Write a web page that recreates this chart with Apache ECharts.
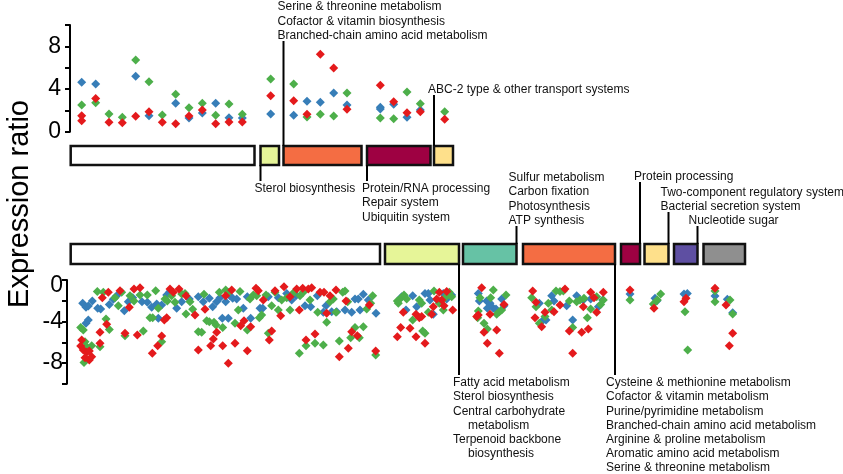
<!DOCTYPE html>
<html><head><meta charset="utf-8">
<script src="https://cdn.jsdelivr.net/npm/echarts@6/dist/echarts.min.js"></script>
<style>html,body{margin:0;padding:0;background:#fff}#c{width:843px;height:474px}</style>
</head><body><div id="c"></div>
<script>
// ---------- DATA ----------
// x = gene position along the functional-category strip, y = expression ratio
const upRed = [[21.7,1.5],[21.7,1.03],[35.7,3.1],[49,0.88],[62.3,0.85],[75.7,1.44],[89,1.87],[102.3,0.88],[115.7,0.75],[129,1.47],[142.3,2.03],[155.7,0.75],[169,0.91],[182.3,0.91],[210.7,3.37],[233.7,2.9],[247,1.63],[260.3,7.25],[273.7,5.97],[287,2.1],[320.3,4.35],[333.7,2.81],[347,1.78],[360.3,1.87],[384.7,1.16]];
const upBlue = [[21.7,4.63],[35.7,4.47],[75.7,5.19],[89,1.5],[115.7,2.66],[129,1.28],[142.3,1.75],[155.7,2.66],[169,1.31],[182.3,1.28],[210.7,1.66],[233.7,1.54],[247,2.85],[260.3,2.75],[273.7,3.63],[287,2.5],[320.3,2.29],[320.3,2.13],[333.7,2.57],[347,1.35],[360.3,2.03]];
const upGreen = [[21.7,2.5],[35.7,2.72],[49,1.66],[62.3,1.35],[75.7,6.72],[89,4.69],[102.3,1.56],[115.7,3.5],[129,2.25],[142.3,2.66],[155.7,1.54],[169,2.6],[182.3,1.63],[210.7,4.94],[233.7,4.47],[247,1.38],[260.3,1.63],[273.7,1.47],[287,3.63],[320.3,1.28],[333.7,1.22],[347,3.72],[360.3,2.63],[384.7,1.87]];

const downBlue = [[22.7,-2.25],[26,-2.63],[28.3,-2.51],[32.3,-2.02],[37.7,-2.73],[40.7,-2.8],[49.3,-2.35],[53.3,-1.86],[56.7,-1.51],[64.3,-2.96],[68.3,-2.09],[72.7,-1.7],[82,-2.09],[87.3,-2.15],[91.7,-2.63],[96.7,-2.31],[101.7,-2.41],[106.7,-1.45],[110,-1.12],[116.7,-2.73],[121.7,-2.09],[129.3,-1.83],[138.3,-1.61],[143.3,-2.09],[149.3,-1.77],[152.7,-2.57],[156.7,-2.09],[160,-1.7],[165.7,-2.09],[170,-1.51],[26,-4.18],[28.3,-3.86],[98.3,-3.69],[162.3,-3.69],[168.3,-3.69],
 [172.7,-1.77],[176.7,-1.83],[183.3,-2.73],[187.3,-1.61],[190.7,-3.69],[200,-2.73],[202.7,-2.73],[208.3,-1.61],[218.3,-1.7],[226.7,-1.29],[231.7,-1.93],[236,-1.51],[245,-2.47],[250.7,-2.57],[257.3,-1.51],[263.3,-3.12],[266,-2.47],[271.7,-3.05],[276.7,-3.05],[285,-2.89],[291.7,-3.12],[295,-1.83],[298.3,-1.83],[300,-2.89],[303.3,-1.38],[308.3,-1.93],[316,-3.21],
 [341.7,-1.61],[346,-2.89],[352.7,-1.51],[356.7,-2.57],[365,-1.29],[368.3,-1.29],[370,-1.93],[373.3,-3.31],[378.3,-2.02],[383.3,-1.29],[386.7,-1.83],[391.7,-1.45],
 [418.3,-1.29],[419.3,-2.02],[426.7,-2.02],[427.3,-2.73],[430,-2.25],[433.3,-2.73],[436,-2.8],[441.7,-1.83],[444,-2.47],
 [479.3,-2.25],[483.3,-3.86],[486,-3.86],[491.7,-1.51],[494,-2.02],[506.7,-2.47],[512.7,-3.86],[516.7,-1.51],[523.3,-1.93],[530.7,-1.83],[538.3,-2.57],[542.7,-1.93],
 [570,-1.35],[595,-1.77],[597,-2.0],[624,-1.35],[627.3,-1.29],[655,-1.54],[667.3,-1.86],[672.7,-3.15]];
const downGreen = [[20.7,-4.59],[23.3,-4.82],[25,-5.94],[26.7,-6.43],[31.7,-6.33],[24,-7.94],[37.3,-1.12],[43.3,-1.19],[40,-6.43],[46,-3.76],[49.3,-4.76],[55,-1.7],[58.3,-2.47],[61.7,-1.19],[65,-5.37],[70,-1.51],[74,-2.02],[80,-1.45],[83.3,-4.92],[87.3,-1.45],[95.7,-1.03],[90,-3.63],[92.7,-3.63],[98.3,-2.73],[101.7,-5.94],[105,-1.83],[107.3,-2.02],[111.7,-1.51],[115,-2.15],[121.7,-1.35],[125,-1.29],[130,-2.09],[132.7,-2.83],[126,-3.28],[138.3,-4.98],[141.7,-5.04],[146.7,-3.92],[149.3,-4.02],[154,-4.08],[156,-4.34],[162.7,-4.59],[159.3,-1.19],[165.7,-0.96],[169,-1.19],[144,-1.38],
 [180,-1.12],[178.3,-2.89],[175,-4.18],[190,-1.83],[193.3,-1.45],[196.7,-1.51],[199.3,-3.63],[201.7,-3.37],[187.3,-4.82],[206,-1.45],[208.3,-5.14],[211.7,-2.47],[215,-1.19],[218.3,-2.89],[221.7,-1.93],[226.7,-1.7],[230,-2.89],[234,-1.19],[240,-1.51],[243.3,-1.19],[239.3,-7.07],[246,-6.33],[250,-1.93],[255,-6.1],[257.7,-3.12],[263.3,-6.27],[266.7,-4.08],[270,-2.09],[273.3,-1.83],[276,-3.12],[279.3,-5.88],[282.7,-1.19],[285,-1.06],[287.7,-2.09],[290.7,-5.56],[295,-4.59],[299.3,-5.56],[303.3,-4.5],[306.7,-2.8],[310.7,-2.25],[312.7,-1.51],[315.7,-7.23],
 [337.3,-2.02],[338.3,-2.25],[340.7,-1.77],[344,-1.45],[346.7,-1.83],[352.7,-3.86],[359.3,-1.93],[361.7,-2.25],[362.7,-4.92],[365,-5.14],[368.3,-3.12],[374,-1.06],[379.3,-2.25],[383.3,-2.89],[385,-1.7],[388.3,-1.29],[389.3,-1.19],[391.7,-1.61],
 [433.3,-0.96],[430.7,-1.7],[418.3,-2.99],[417.7,-3.63],[424,-4.18],[427.3,-4.72],[436.7,-3.31],[439.3,-3.05],[446,-1.45],[441.7,-2.89],[420,-1.7],
 [471.7,-1.7],[476,-2.57],[479.3,-4.18],[485,-3.53],[488.3,-2.25],[491.7,-2.89],[496,-1.06],[500,-1.12],[503.3,-1.06],[509.3,-2.02],[512.7,-4.59],[516.7,-2.09],[520,-1.93],[524,-1.77],[527.3,-3.63],[530.7,-2.8],[536.7,-1.61],[540.7,-2.35],[543.3,-1.93],
 [570,-1.93],[600.7,-1.35],[597.3,-1.93],[593.3,-2.31],[625,-3.05],[627.7,-6.75],[655,-1.06],[655,-2.09],[670,-1.93],[672.7,-3.28]];
const downRed = [[21.7,-5.78],[20.7,-6.36],[23.3,-6.75],[26.7,-6.97],[29.3,-6.84],[25,-7.49],[29.3,-7.71],[31.7,-7.39],[40,-6.1],[40,-5.04],[46.7,-4.27],[42.3,-1.7],[48.3,-1.19],[60,-1.03],[69.3,-2.63],[74,-0.87],[80,-0.74],[65,-5.14],[77.3,-5.3],[101.7,-5.4],[97.7,-6.33],[92.3,-7.07],[104.3,-3.86],[106.7,-3.63],[110,-0.87],[119,-0.87],[113.3,-1.19],[126,-1.51],[135,-3.37],[145,-2.83],[138.3,-6.75],[153.3,-5.69],[150.7,-6.33],[156.7,-5.04],[162.7,-6.33],[168.3,-8.03],[165.7,-1.51],
 [171.7,-0.96],[175,-6.1],[180.7,-4.4],[184,-3.92],[187.3,-6.81],[190.7,-4.5],[196,-0.8],[198.3,-1.03],[203.3,-1.93],[209.3,-5.78],[211.7,-4.92],[215,-1.03],[220.7,-3.44],[224,-0.64],[230,-1.61],[239.3,-2.89],[236.7,-0.87],[242.7,-0.8],[248.3,-0.87],[251.7,-0.74],[246,-5.78],[255,-5.2],[260,-1.19],[264,-1.19],[266.7,-3.21],[270,-1.51],[276,-0.96],[279.3,-7.39],[288.3,-6.59],[286,-2.02],[291.7,-4.98],[297.3,-5.37],[309.3,-2.41],[315.7,-6.84],
 [343.3,-3.12],[340.7,-4.59],[337.3,-5.46],[350,-4.66],[356,-5.46],[356,-3.31],[359.3,-3.63],[361.7,-3.53],[365,-6.1],[373.3,-2.57],[371.7,-3.31],[379.3,-1.19],[381.7,-1.93],[384,-2.47],[386.7,-1.12],[392.7,-2.89],[376.7,-1.83],
 [421.7,-0.74],[418.3,-3.37],[416.7,-3.53],[430,-3.31],[436.7,-4.82],[424,-5.04],[427.3,-6.1],[439.3,-7.07],[444,-2.35],
 [472.7,-1.06],[475,-3.63],[481.7,-4.5],[485,-3.12],[494,-3.05],[500,-2.41],[505,-0.87],[509.3,-4.92],[512.7,-7.07],[521.7,-5.04],[528.3,-4.72],[530.7,-1.19],[523.3,-2.57],[536.7,-3.12],[543.3,-1.19],[534,-1.7],[476,-2.15],
 [570,-0.96],[594,-2.73],[626,-1.77],[624,-2.09],[655,-0.8],[666,-2.41],[672.7,-5.14],[669.3,-6.33]];

// category strips: [start, end, colour key]
const upCategories = [[10.7,194.5,'none'],[200.5,219,'yg'],[223.5,301.5,'orange'],[307,370.5,'maroon'],[374,393,'yellow']];
const downCategories = [[10.7,320,'none'],[325,399,'yg'],[403,456.5,'teal'],[463,555,'orange'],[561,580,'maroon'],[584.5,608.5,'yellow'],[614,637.5,'purple'],[643.5,685,'gray']];

// annotations: strip (0 = up, 1 = down), anchor x, direction, text lines
const annotations = [
  {strip:0, x:223.5, dir:'up',   lines:['Serine & threonine metabolism','Cofactor & vitamin biosynthesis','Branched-chain amino acid metabolism']},
  {strip:0, x:374,   dir:'up',   lines:['ABC-2 type & other transport systems']},
  {strip:0, x:200.5, dir:'down', lines:['Sterol biosynthesis']},
  {strip:0, x:307,   dir:'down', lines:['Protein/RNA processing','Repair system','Ubiquitin system']},
  {strip:1, x:456.5, dir:'up',   lines:['Sulfur metabolism','Carbon fixation','Photosynthesis','ATP synthesis']},
  {strip:1, x:580,   dir:'up',   lines:['Protein processing']},
  {strip:1, x:608.5, dir:'up',   lines:['Two-component regulatory system','Bacterial secretion system']},
  {strip:1, x:637.5, dir:'up',   lines:['Nucleotide sugar']},
  {strip:1, x:399,   dir:'down', lines:['Fatty acid metabolism','Sterol biosynthesis','Central carbohydrate','  metabolism','Terpenoid backbone','  biosynthesis']},
  {strip:1, x:555,   dir:'down', lines:['Cysteine & methionine metabolism','Cofactor & vitamin metabolism','Purine/pyrimidine metabolism','Branched-chain amino acid metabolism','Arginine & proline metabolism','Aromatic amino acid metabolism','Serine & threonine metabolism']}
];
const upTicks = [0, 4, 8];
const downTicks = [0, -4, -8];
const yTitle = 'Expression ratio';

// ---------- STYLE / LAYOUT ----------
const boxColors = {none:'#ffffff', yg:'#e6f598', orange:'#f46d43', maroon:'#9e0142', yellow:'#fee08b', teal:'#66c2a5', purple:'#5e4fa2', gray:'#8f8f8f'};
const annotLayout = [ // leader length (px) and text offset (px)
  {len:105, dx:-6},{len:51, dx:-6},{len:16, dx:-6},{len:16, dx:-5},
  {len:18, dx:-8},{len:62, dx:-6},{len:32, dx:-8},{len:18, dx:-9},
  {len:111, dx:-6},{len:111, dx:-9}
];
const FONT = '"Liberation Sans", Arial, Helvetica, sans-serif';
const RED = '#e41a1c', BLUE = '#377eb8', GREEN = '#4daf4a';

const chart = echarts.init(document.getElementById('c'), null, {renderer:'canvas'});

const grids = [
  {left:70, top:25, width:690, height:106.7},   // up scatter
  {left:70, top:146, width:690, height:19},     // up strip
  {left:70, top:244, width:690, height:20},     // down strip
  {left:67, top:280, width:693, height:103.75}  // down scatter
];
const xAxes = [
  {gridIndex:0, type:'value', min:10, max:700, show:false},
  {gridIndex:1, type:'value', min:10, max:700, show:false},
  {gridIndex:2, type:'value', min:10, max:700, show:false},
  {gridIndex:3, type:'value', min:7, max:700, show:false}
];
function yAx(grid, min, max, ticks, margin, zeroShift) {
  const lbl = {color:'#000', fontSize:23, fontFamily:FONT};
  return {gridIndex:grid, type:'value', min:min, max:max, interval:2,
    axisLine:{show:true, onZero:false, lineStyle:{color:'#000', width:2}},
    axisTick:{show:true, length:5, lineStyle:{color:'#000', width:2}},
    splitLine:{show:false},
    axisLabel:Object.assign({}, lbl, {margin:margin,
      formatter: v => ticks.includes(v) ? (v === 0 && zeroShift ? '{z|0}' : String(v)) : '',
      rich:{z:Object.assign({}, lbl, {padding:[zeroShift || 0, 0, 0, 0]})}})};
}
const yAxes = [
  yAx(0, 0, 10, upTicks, 9, 0),
  {gridIndex:1, type:'value', min:0, max:1, show:false},
  {gridIndex:2, type:'value', min:0, max:1, show:false},
  yAx(3, -10, 0, downTicks, 4, 12)
];

function scatter(data, color, ax) {
  return {type:'scatter', data:data, xAxisIndex:ax, yAxisIndex:ax, symbol:'diamond', symbolSize:9,
    itemStyle:{color:color, opacity:1}, silent:true};
}
function boxSeries(cats, ax) {
  return {type:'custom', xAxisIndex:ax, yAxisIndex:ax, clip:false, silent:true,
    data: cats.map(c => ({value:[c[0], c[1]], itemStyle:{color:boxColors[c[2]]}})),
    renderItem: (params, api) => {
      const p0 = api.coord([api.value(0), 1]);
      const p1 = api.coord([api.value(1), 0]);
      return {type:'rect', shape:{x:p0[0], y:p0[1], width:p1[0]-p0[0], height:p1[1]-p0[1]},
        style:{fill:api.visual('color'), stroke:'#111', lineWidth:2.5}};
    }};
}
function annotSeries(stripIdx, ax) {
  const items = [];
  annotations.forEach((a, i) => { if (a.strip === stripIdx) items.push([a.x, i]); });
  return {type:'custom', xAxisIndex:ax, yAxisIndex:ax, clip:false, silent:true, z:5,
    data: items,
    renderItem: (params, api) => {
      const idx = api.value(1);
      const a = annotations[idx], L = annotLayout[idx];
      const up = a.dir === 'up';
      const base = api.coord([api.value(0), up ? 1 : 0]);
      const x0 = base[0], y0 = base[1];
      const yEnd = up ? y0 - L.len : y0 + L.len;
      const LH = up ? 14.5 : 14.1;
      const n = a.lines.length;
      const children = [{type:'line', shape:{x1:x0, y1:y0, x2:x0, y2:yEnd}, style:{stroke:'#000', lineWidth:2}}];
      a.lines.forEach((t, i) => {
        const cy = up ? yEnd - 5 - (n - 1 - i) * LH : yEnd + 8 + i * LH;
        const indent = t.startsWith('  ') ? 15 : 0;
        children.push({type:'text', style:{text:t.trim(), x:x0 + L.dx + indent, y:cy, fill:'#111',
          font:'12px ' + FONT, align:'left', verticalAlign:'middle'}});
      });
      return {type:'group', children:children};
    }};
}

chart.setOption({
  animation:false,
  backgroundColor:'#fff',
  grid:grids, xAxis:xAxes, yAxis:yAxes,
  graphic:[{type:'text', x:20, y:204, rotation:Math.PI/2,
    style:{text:yTitle, font:'29px ' + FONT, fill:'#000', align:'center', verticalAlign:'middle'}}],
  series:[
    scatter(upBlue, BLUE, 0), scatter(upGreen, GREEN, 0), scatter(upRed, RED, 0),
    boxSeries(upCategories, 1), annotSeries(0, 1),
    boxSeries(downCategories, 2), annotSeries(1, 2),
    scatter(downBlue, BLUE, 3), scatter(downGreen, GREEN, 3), scatter(downRed, RED, 3)
  ]
});
</script></body></html>
